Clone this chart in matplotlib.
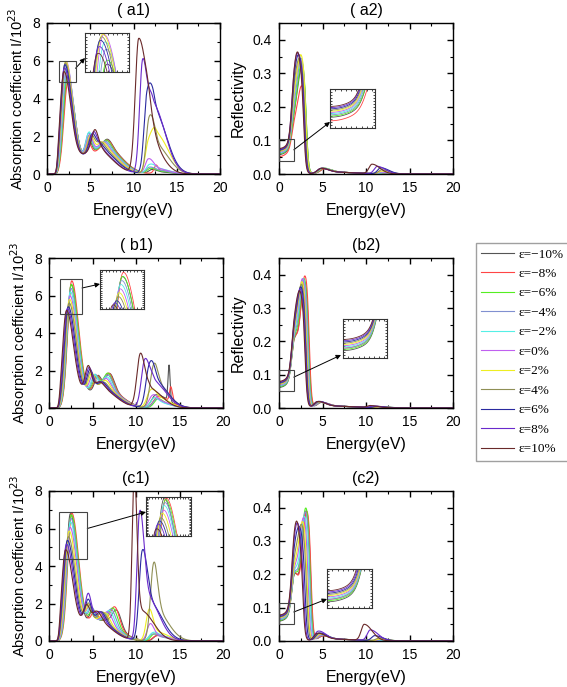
import numpy as np
import matplotlib
matplotlib.use("Agg")
import matplotlib.pyplot as plt
from matplotlib.ticker import MultipleLocator, FormatStrFormatter
from matplotlib.patches import Rectangle

# ---------------- data ----------------
strain_labels = ["ε=−10%", "ε=−8%", "ε=−6%", "ε=−4%", "ε=−2%", "ε=0%",
                 "ε=2%", "ε=4%", "ε=6%", "ε=8%", "ε=10%"]
colors = ["#555555", "#ff4545", "#55ee22", "#8090d0", "#55efe6", "#c060f0",
          "#eeee22", "#8f8f55", "#2a2aa0", "#6a2acc", "#6a2a2a"]

panel_titles = ["( a1)", "( a2)", "( b1)", "(b2)", "(c1)", "(c2)"]
x_ticks = [0, 5, 10, 15, 20]

# (a1) absorption: peak energies (eV) and heights (10^23) per strain
a1_main_e = [2.35, 2.40, 2.35, 2.30, 2.25, 2.20, 2.15, 2.10, 2.05, 2.00, 1.95]
a1_main_h = [5.0, 4.7, 5.1, 5.4, 5.6, 5.8, 5.8, 5.7, 5.6, 5.4, 5.2]
a1_bump_e = [4.80, 4.75, 4.80, 4.80, 4.85, 4.90, 5.00, 5.10, 5.20, 5.35, 5.50]
a1_bump_h = [0.9, 0.8, 1.1, 1.2, 1.2, 1.0, 0.9, 0.8, 0.8, 0.8, 0.8]
a1_mid_e = [7.0, 7.0, 6.9, 6.8, 6.7, 6.6, 6.4, 6.2, 6.0, 5.9, 5.8]
a1_mid_h = [0.4, 0.4, 0.4, 0.35, 0.3, 0.3, 0.3, 0.3, 0.3, 0.3, 0.3]
a1_broad_e = [6.8, 6.8, 6.7, 6.6, 6.5, 6.4, 6.3, 6.1, 6.0, 5.8, 5.7]
a1_broad_h = [1.45, 1.4, 1.4, 1.4, 1.4, 1.4, 1.4, 1.4, 1.35, 1.3, 1.3]
a1_hi_e = [12.1, 12.6, 11.9, 11.8, 11.8, 11.7, 11.7, 11.8, 11.55, 11.05, 10.6]
a1_hi_h = [0.2, 0.3, 0.25, 0.3, 0.4, 0.7, 1.4, 2.6, 3.6, 5.8, 7.1]
a1_hi_wl = [0.35, 0.2, 0.35, 0.35, 0.35, 0.35, 0.35, 0.35, 0.35, 0.35, 0.4]
a1_hi_wr = [0.5, 0.2, 0.5, 0.5, 0.5, 0.5, 0.5, 0.5, 0.5, 0.5, 0.9]
a1_hi2_e = [13.0, 12.9, 12.8, 12.7, 12.6, 12.5, 12.6, 12.6, 12.4, 12.2, 11.9]
a1_hi2_h = [0.1, 0.2, 0.15, 0.2, 0.3, 0.3, 2.1, 1.5, 3.3, 3.7, 1.6]

# (b1) absorption
b1_main_e = [2.55, 2.60, 2.55, 2.50, 2.45, 2.40, 2.35, 2.30, 2.20, 2.10, 2.00]
b1_main_h = [6.4, 6.6, 6.4, 6.2, 6.0, 5.8, 5.6, 5.4, 5.2, 5.1, 5.0]
b1_bump_e = [5.6, 5.5, 5.4, 5.3, 5.2, 5.0, 4.9, 4.8, 4.7, 4.6, 4.5]
b1_bump_h = [0.7, 0.7, 0.7, 0.8, 0.8, 0.8, 0.9, 1.0, 1.1, 1.2, 1.3]
b1_mid_e = [7.0, 6.9, 6.8, 6.8, 6.7, 6.6, 6.5, 6.3, 6.1, 5.9, 5.8]
b1_mid_h = [0.8, 0.8, 0.8, 0.7, 0.6, 0.5, 0.4, 0.3, 0.3, 0.3, 0.3]
b1_broad_e = [6.4, 6.4, 6.3, 6.3, 6.2, 6.2, 6.1, 6.0, 5.9, 5.8, 5.7]
b1_broad_h = [1.1, 1.1, 1.1, 1.1, 1.1, 1.1, 1.1, 1.1, 1.1, 1.1, 1.1]
b1_hi_e = [13.8, 14.0, 12.5, 12.3, 12.0, 11.8, 11.6, 12.0, 11.5, 11.0, 10.5]
b1_hi_h = [1.9, 0.8, 0.2, 0.2, 0.3, 0.4, 0.7, 1.3, 1.8, 2.4, 2.8]
b1_hi_wl = [0.12, 0.15, 0.4, 0.4, 0.4, 0.4, 0.4, 0.4, 0.4, 0.4, 0.4]
b1_hi_wr = [0.12, 0.2, 0.5, 0.5, 0.5, 0.5, 0.5, 0.5, 0.5, 0.5, 0.5]
b1_hi2_e = [12.3, 12.5, 12.6, 12.5, 12.4, 12.3, 12.3, 12.3, 12.2, 12.0, 11.6]
b1_hi2_h = [0.7, 0.6, 0.3, 0.3, 0.3, 0.4, 0.6, 1.2, 1.4, 1.4, 1.0]

# (c1) absorption
c1_main_e = [2.45, 2.60, 2.55, 2.50, 2.45, 2.40, 2.30, 2.20, 2.10, 2.00, 1.90]
c1_main_h = [6.6, 6.6, 6.5, 6.3, 6.1, 5.8, 5.6, 5.3, 5.1, 4.9, 4.6]
c1_bump_e = [5.0, 5.2, 5.0, 4.9, 4.8, 4.7, 4.6, 4.5, 4.5, 4.5, 4.3]
c1_bump_h = [0.7, 0.6, 0.7, 0.8, 0.8, 0.9, 0.9, 1.0, 1.2, 1.5, 0.9]
c1_mid_e = [7.8, 7.6, 7.4, 7.2, 7.0, 6.8, 6.5, 6.2, 6.0, 5.8, 5.5]
c1_mid_h = [0.9, 1.0, 0.9, 0.8, 0.7, 0.6, 0.5, 0.5, 0.5, 0.5, 0.5]
c1_broad_e = [6.2, 6.2, 6.1, 6.0, 5.9, 5.8, 5.7, 5.6, 5.5, 5.4, 5.3]
c1_broad_h = [1.1, 1.1, 1.1, 1.1, 1.1, 1.1, 1.1, 1.1, 1.1, 1.1, 1.1]
c1_hi_e = [12.3, 12.2, 12.0, 11.8, 11.8, 11.6, 11.5, 12.0, 10.7, 10.4, 9.8]
c1_hi_h = [0.2, 0.2, 0.3, 0.3, 0.3, 0.8, 1.5, 2.8, 4.4, 6.2, 8.6]
c1_hi_wl = [0.35, 0.35, 0.35, 0.35, 0.35, 0.35, 0.35, 0.35, 0.35, 0.3, 0.25]
c1_hi_wr = [0.5, 0.5, 0.5, 0.5, 0.5, 0.4, 0.4, 0.45, 0.5, 0.45, 0.3]
c1_hi2_e = [13.0, 13.0, 12.8, 12.6, 12.5, 12.3, 12.2, 12.3, 11.6, 11.2, 10.6]
c1_hi2_h = [0.2, 0.2, 0.2, 0.2, 0.3, 0.3, 0.5, 1.6, 2.0, 2.4, 1.6]

# (a2) reflectivity
a2_r0 = [0.058, 0.052, 0.060, 0.062, 0.064, 0.066, 0.068, 0.070, 0.072, 0.074, 0.076]
a2_sh_h = [0.06, 0.05, 0.06, 0.07, 0.08, 0.09, 0.10, 0.11, 0.12, 0.13, 0.12]
a2_pk_e = [2.60, 2.60, 2.60, 2.55, 2.50, 2.50, 2.55, 2.45, 2.40, 2.35, 2.30]
a2_pk_h = [0.18, 0.13, 0.19, 0.20, 0.195, 0.19, 0.20, 0.18, 0.18, 0.17, 0.17]
a2_cut_e = [3.15, 3.10, 3.15, 3.10, 3.05, 3.05, 3.10, 3.00, 2.95, 2.90, 2.85]
a2_b_e = [5.2, 5.2, 5.1, 5.0, 5.0, 4.9, 4.9, 4.9, 4.8, 4.8, 4.8]
a2_b_h = [0.010, 0.010, 0.012, 0.012, 0.012, 0.012, 0.012, 0.012, 0.012, 0.012, 0.012]
a2_hi_e = [12.0, 12.0, 12.0, 12.0, 12.0, 11.8, 11.8, 11.8, 11.7, 11.3, 10.7]
a2_hi_h = [0.002, 0.002, 0.003, 0.003, 0.004, 0.005, 0.008, 0.012, 0.018, 0.022, 0.028]

# (b2) reflectivity
b2_r0 = [0.062, 0.066, 0.064, 0.066, 0.068, 0.070, 0.072, 0.074, 0.076, 0.078, 0.080]
b2_sh_h = [0.10, 0.10, 0.10, 0.10, 0.10, 0.10, 0.10, 0.10, 0.10, 0.10, 0.10]
b2_pk_e = [2.90, 2.95, 2.85, 2.80, 2.75, 2.70, 2.65, 2.60, 2.55, 2.50, 2.45]
b2_pk_h = [0.22, 0.23, 0.23, 0.23, 0.23, 0.23, 0.22, 0.21, 0.20, 0.19, 0.18]
b2_cut_e = [3.45, 3.50, 3.40, 3.35, 3.30, 3.25, 3.20, 3.15, 3.10, 3.05, 3.00]
b2_b_e = [4.8, 4.8, 4.7, 4.7, 4.6, 4.6, 4.5, 4.5, 4.5, 4.4, 4.4]
b2_b_h = [0.012, 0.012, 0.012, 0.012, 0.014, 0.014, 0.014, 0.014, 0.016, 0.016, 0.016]
b2_hi_e = [12.0, 12.0, 12.0, 12.0, 12.0, 11.8, 11.6, 11.4, 11.2, 10.9, 10.5]
b2_hi_h = [0.002, 0.002, 0.002, 0.002, 0.002, 0.003, 0.003, 0.004, 0.004, 0.005, 0.006]

# (c2) reflectivity
c2_r0 = [0.060, 0.064, 0.062, 0.064, 0.066, 0.068, 0.070, 0.072, 0.074, 0.076, 0.078]
c2_sh_h = [0.10, 0.10, 0.10, 0.10, 0.10, 0.10, 0.10, 0.11, 0.12, 0.12, 0.12]
c2_pk_e = [3.10, 3.15, 3.05, 3.00, 2.90, 2.80, 2.70, 2.60, 2.45, 2.30, 2.20]
c2_pk_h = [0.22, 0.21, 0.23, 0.22, 0.21, 0.21, 0.20, 0.19, 0.17, 0.16, 0.15]
c2_cut_e = [3.65, 3.70, 3.60, 3.55, 3.45, 3.35, 3.25, 3.15, 3.00, 2.85, 2.75]
c2_b_e = [5.0, 5.0, 4.9, 4.9, 4.8, 4.8, 4.7, 4.6, 4.6, 4.5, 4.4]
c2_b_h = [0.010, 0.010, 0.012, 0.012, 0.014, 0.014, 0.016, 0.018, 0.020, 0.026, 0.020]
c2_hi_e = [12.0, 12.0, 12.0, 12.0, 12.0, 11.8, 11.6, 11.5, 11.0, 10.5, 9.8]
c2_hi_h = [0.002, 0.002, 0.002, 0.002, 0.003, 0.004, 0.005, 0.008, 0.015, 0.032, 0.048]

# ---------------- curve construction ----------------
E = np.linspace(0, 20, 1001)


def peak(c, h, wl, wr):
    w = np.where(E < c, wl, wr)
    return h * np.exp(-0.5 * ((E - c) / w) ** 2)


def absorption_curves(main_e, main_h, bump_e, bump_h, mid_e, mid_h, broad_e, broad_h,
                      hi_e, hi_h, hi_wl, hi_wr, hi2_e, hi2_h):
    out = []
    for i in range(len(strain_labels)):
        y = (peak(main_e[i], main_h[i], 0.45, 0.8)
             + peak(bump_e[i], bump_h[i], 0.35, 0.35)
             + peak(mid_e[i], mid_h[i], 0.5, 0.5)
             + peak(broad_e[i], broad_h[i], 2.0, 1.8)
             + peak(hi_e[i], hi_h[i], hi_wl[i], hi_wr[i])
             + peak(hi2_e[i], hi2_h[i], 0.5, 1.4))
        y = y / (1 + np.exp(-(E - 1.15) / 0.1))
        out.append(y)
    return out


def reflect_curves(r0, sh_h, pk_e, pk_h, cut_e, b_e, b_h, hi_e, hi_h):
    out = []
    for i in range(len(strain_labels)):
        low = (r0[i] + 0.012 * E ** 2 + peak(1.75, sh_h[i], 0.3, 0.4)
               + peak(pk_e[i], pk_h[i], 0.45, 0.6))
        y = low / (1 + np.exp((E - cut_e[i]) / 0.13))
        y = y + peak(b_e[i], b_h[i], 0.4, 0.8) + peak(5.5, 0.006, 1.0, 3.0)
        y = y + peak(hi_e[i], hi_h[i], 0.35, 0.9)
        out.append(y)
    return out


a1 = absorption_curves(a1_main_e, a1_main_h, a1_bump_e, a1_bump_h, a1_mid_e, a1_mid_h,
                       a1_broad_e, a1_broad_h, a1_hi_e, a1_hi_h, a1_hi_wl, a1_hi_wr,
                       a1_hi2_e, a1_hi2_h)
b1 = absorption_curves(b1_main_e, b1_main_h, b1_bump_e, b1_bump_h, b1_mid_e, b1_mid_h,
                       b1_broad_e, b1_broad_h, b1_hi_e, b1_hi_h, b1_hi_wl, b1_hi_wr,
                       b1_hi2_e, b1_hi2_h)
c1 = absorption_curves(c1_main_e, c1_main_h, c1_bump_e, c1_bump_h, c1_mid_e, c1_mid_h,
                       c1_broad_e, c1_broad_h, c1_hi_e, c1_hi_h, c1_hi_wl, c1_hi_wr,
                       c1_hi2_e, c1_hi2_h)
a2 = reflect_curves(a2_r0, a2_sh_h, a2_pk_e, a2_pk_h, a2_cut_e, a2_b_e, a2_b_h, a2_hi_e, a2_hi_h)
b2 = reflect_curves(b2_r0, b2_sh_h, b2_pk_e, b2_pk_h, b2_cut_e, b2_b_e, b2_b_h, b2_hi_e, b2_hi_h)
c2 = reflect_curves(c2_r0, c2_sh_h, c2_pk_e, c2_pk_h, c2_cut_e, c2_b_e, c2_b_h, c2_hi_e, c2_hi_h)

# ---------------- figure ----------------
plt.rcParams["font.family"] = ["Liberation Sans", "DejaVu Sans"]
W, H = 567, 687
fig = plt.figure(figsize=(W / 100, H / 100), dpi=100)


def px_rect(x0, y0, x1, y1):
    return [x0 / W, 1 - y1 / H, (x1 - x0) / W, (y1 - y0) / H]


def px_pt(x, y):
    return (x / W, 1 - y / H)


def style_axes(ax, absorb, small=False):
    ax.set_xlim(0, 20)
    if absorb:
        ax.set_ylim(0, 8)
    else:
        ax.set_ylim(0, 0.45)
    for s in ax.spines.values():
        s.set_linewidth(1.0 if not small else 0.8)
        s.set_color("black" if not small else "#333333")
    if small:
        ax.tick_params(which="both", direction="in", top=True, right=True,
                       labelbottom=False, labelleft=False, length=1.5, width=0.5)
        ax.xaxis.set_major_locator(MultipleLocator(0.2))
        ax.yaxis.set_major_locator(MultipleLocator(0.1 if absorb else 0.005))
        return
    ax.xaxis.set_major_locator(MultipleLocator(5))
    ax.xaxis.set_minor_locator(MultipleLocator(2.5))
    if absorb:
        ax.yaxis.set_major_locator(MultipleLocator(2))
        ax.yaxis.set_minor_locator(MultipleLocator(1))
    else:
        ax.yaxis.set_major_locator(MultipleLocator(0.1))
        ax.yaxis.set_minor_locator(MultipleLocator(0.05))
        ax.yaxis.set_major_formatter(FormatStrFormatter("%.1f"))
    ax.tick_params(which="both", direction="in", top=True, right=True, labelsize=10)
    ax.tick_params(which="major", length=4, width=1.0, pad=5)
    ax.tick_params(which="minor", length=2.5, width=0.8)
    ax.set_xticks(x_ticks)
    ax.set_xlabel("Energy(eV)", fontsize=11.5, labelpad=6)


panels = [
    # curves, absorb?, main rect px, inset rect px, zoom box (x0,x1,y0,y1), arrow start data, arrow end px
    (a1, True, (47, 23, 220, 174), (85, 33, 129, 72), (1.4, 3.3, 4.9, 6.0), (3.3, 5.6), (85, 58)),
    (a2, False, (279, 23, 453, 174), (330, 89, 375, 128), (0.0, 1.7, 0.04, 0.105), (1.7, 0.072), (330, 122)),
    (b1, True, (49, 258, 223, 408), (100, 270, 144, 309), (1.26, 3.8, 5.0, 6.9), (3.8, 6.4), (100, 284)),
    (b2, False, (279, 258, 453, 408), (343, 319, 387, 358), (0.0, 1.7, 0.05, 0.113), (1.7, 0.0925), (341, 355)),
    (c1, True, (49, 491, 223, 641), (146, 497, 191, 536), (1.15, 4.4, 4.4, 6.9), (4.4, 6.0), (146, 512)),
    (c2, False, (279, 491, 453, 641), (327, 569, 372, 608), (0.0, 1.7, 0.05, 0.113), (1.7, 0.087), (327, 599)),
]

handles = None
for k, (curves, absorb, mrect, irect, zbox, astart, aend) in enumerate(panels):
    ax = fig.add_axes(px_rect(*mrect))
    lines = []
    for i, y in enumerate(curves):
        ln, = ax.plot(E, y, color=colors[i], lw=0.8, label=strain_labels[i])
        lines.append(ln)
    if handles is None:
        handles = lines
    style_axes(ax, absorb)
    ax.set_title(panel_titles[k], fontsize=11.5, pad=6)
    if absorb:
        ax.set_ylabel("Absorption coefficient I/10$^{23}$", fontsize=10.5, labelpad=3)
    elif k in (1, 3):
        ax.set_ylabel("Reflectivity", fontsize=11.5, labelpad=5)
    x0, x1, y0, y1 = zbox
    ax.add_patch(Rectangle((x0, y0), x1 - x0, y1 - y0, fill=False,
                           ec="#444444", lw=0.8, zorder=5, clip_on=False))
    ax.annotate("", xy=px_pt(*aend), xycoords="figure fraction",
                xytext=astart, textcoords="data",
                arrowprops=dict(arrowstyle="-|>", color="black", lw=0.7,
                                mutation_scale=7, shrinkA=0, shrinkB=0))
    ins = fig.add_axes(px_rect(*irect))
    for i, y in enumerate(curves):
        ins.plot(E, y, color=colors[i], lw=0.6)
    style_axes(ins, absorb, small=True)
    ins.set_xlim(x0, x1)
    ins.set_ylim(y0, y1)

leg = fig.legend(handles, strain_labels, loc="upper left",
                 bbox_to_anchor=(476 / W, 1 - 243 / H),
                 prop={"family": "Liberation Serif", "size": 9.5},
                 frameon=True, fancybox=False, edgecolor="#888888",
                 handlelength=2.5, handletextpad=0.3, labelspacing=0.55,
                 borderpad=0.4, borderaxespad=0)
leg.get_frame().set_linewidth(1.0)

fig.savefig("out.png", dpi=100)
